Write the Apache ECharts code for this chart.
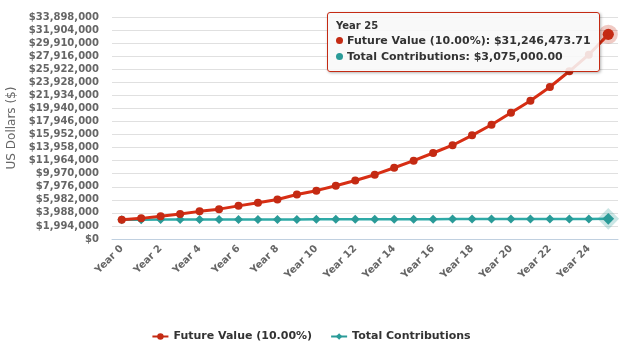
<!DOCTYPE html>
<html>
<head>
<meta charset="utf-8">
<script src="https://cdn.jsdelivr.net/npm/echarts@6/dist/echarts.min.js"></script>
<style>
  html, body { margin: 0; padding: 0; background: #fff; }
  #chart { width: 622px; height: 350px; }
</style>
</head>
<body>
<div id="chart"></div>
<script>
// 图表数据：从参考图读取
const years = ['Year 0', 'Year 1', 'Year 2', 'Year 3', 'Year 4', 'Year 5', 'Year 6', 'Year 7', 'Year 8',
  'Year 9', 'Year 10', 'Year 11', 'Year 12', 'Year 13', 'Year 14', 'Year 15', 'Year 16', 'Year 17',
  'Year 18', 'Year 19', 'Year 20', 'Year 21', 'Year 22', 'Year 23', 'Year 24', 'Year 25'];
const futureValue = [2950000, 3150000, 3470000, 3820000, 4220000, 4560000, 5060000, 5540000, 6020000,
  6800000, 7380000, 8140000, 8930000, 9820000, 10880000, 11960000, 13130000, 14320000,
  15830000, 17450000, 19280000, 21120000, 23210000, 25610000, 28140000, 31246473.71];
const totalContributions = [2950000, 2955000, 2960000, 2965000, 2970000, 2975000, 2980000, 2985000, 2990000,
  2995000, 3000000, 3005000, 3010000, 3015000, 3020000, 3025000, 3030000, 3035000,
  3040000, 3045000, 3050000, 3055000, 3060000, 3065000, 3070000, 3075000];
const yMin = 0;
const yMax = 33898000;
const yStep = 1994000;

const RED = '#c42a13';
const TEAL = '#2a9b98';
const FONT = '"DejaVu Sans", Verdana, sans-serif';
const CSS_FONT = "'DejaVu Sans', Verdana, sans-serif";

const money = (v, d = 0) => '$' + Number(v).toLocaleString('en-US', { minimumFractionDigits: d, maximumFractionDigits: d });

const chart = echarts.init(document.getElementById('chart'));
chart.setOption({
  animation: false,
  textStyle: { fontFamily: FONT },
  grid: { left: 112, right: 4, top: 17, bottom: 111, outerBoundsMode: 'none' },
  legend: {
    bottom: 3,
    left: 'center',
    itemWidth: 16,
    itemHeight: 8,
    itemGap: 18,
    textStyle: { color: '#333', fontSize: 11, fontWeight: 'bold', fontFamily: FONT },
    data: ['Future Value (10.00%)', 'Total Contributions'],
  },
  tooltip: {
    trigger: 'axis',
    alwaysShowContent: true,
    axisPointer: { type: 'none' },
    position: [327, 12],
    backgroundColor: 'rgba(248,248,248,0.88)',
    borderColor: RED,
    borderWidth: 1,
    padding: [6, 8],
    extraCssText: 'border-radius:3px;box-shadow:1px 1px 3px rgba(0,0,0,0.3);',
    formatter: (params) => {
      let html = '<div style="font:bold 10px ' + CSS_FONT + ';color:#333;line-height:14px">' + params[0].name + '</div>';
      params.forEach((p) => {
        html += '<div style="font:bold 11px ' + CSS_FONT + ';color:#333;line-height:16px">'
          + '<span style="display:inline-block;width:7px;height:7px;border-radius:50%;background:' + p.color + ';margin-right:4px"></span>'
          + p.seriesName + ': ' + money(p.value, 2) + '</div>';
      });
      return html;
    },
  },
  xAxis: {
    type: 'category',
    data: years,
    boundaryGap: true,
    axisLine: { lineStyle: { color: '#c0d0e0', width: 1 } },
    axisTick: { alignWithLabel: true, interval: 1, length: 8, lineStyle: { color: '#c0d0e0' } },
    axisLabel: { interval: 1, rotate: 45, margin: 8, color: '#666', fontSize: 10, fontWeight: 'bold', fontFamily: FONT },
  },
  yAxis: {
    type: 'value',
    min: yMin,
    max: yMax,
    interval: yStep,
    name: 'US Dollars ($)',
    nameLocation: 'middle',
    nameGap: 93,
    nameTextStyle: { color: '#666', fontSize: 12, fontFamily: FONT },
    axisLine: { show: false },
    axisTick: { show: false },
    splitLine: { lineStyle: { color: '#e0e0e0' } },
    axisLabel: { color: '#666', fontSize: 10, fontWeight: 'bold', fontFamily: FONT, margin: 13, formatter: (v) => money(v) },
  },
  series: [
    {
      name: 'Future Value (10.00%)',
      type: 'line',
      data: futureValue,
      symbol: 'circle',
      symbolSize: 8,
      z: 3,
      lineStyle: { color: RED, width: 3 },
      itemStyle: { color: RED },
      emphasis: {
        scale: 1.4,
        itemStyle: { color: RED, borderColor: 'rgba(196,42,19,0.25)', borderWidth: 8 },
        lineStyle: { width: 3 },
      },
    },
    {
      name: 'Total Contributions',
      type: 'line',
      data: totalContributions,
      symbol: 'diamond',
      symbolSize: 9,
      z: 2,
      lineStyle: { color: TEAL, width: 2.5 },
      itemStyle: { color: TEAL },
      emphasis: {
        scale: 1.3,
        itemStyle: { color: TEAL, borderColor: 'rgba(42,155,152,0.25)', borderWidth: 7 },
        lineStyle: { width: 2.5 },
      },
    },
  ],
});

chart.dispatchAction({ type: 'showTip', seriesIndex: 0, dataIndex: 25 });
chart.dispatchAction({ type: 'highlight', seriesIndex: [0, 1], dataIndex: 25 });
</script>
</body>
</html>
